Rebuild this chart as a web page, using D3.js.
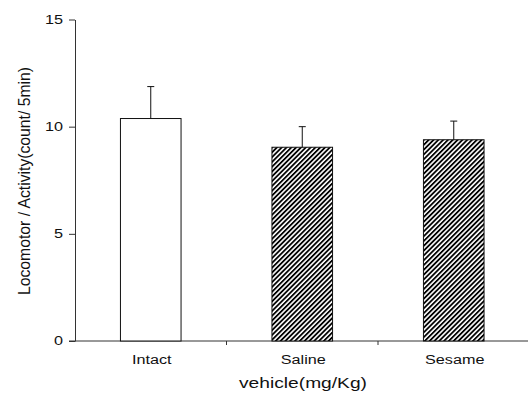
<!DOCTYPE html>
<html>
<head>
<meta charset="utf-8">
<script src="https://cdn.jsdelivr.net/npm/d3@7"></script>
<style>
  body { margin: 0; background: white; }
  text { font-family: Arial, "Liberation Sans", sans-serif; fill: #111; }
</style>
</head>
<body>
<div id="chart"></div>
<script>
// Chart data
var categories = ["Intact", "Saline", "Sesame"];
var means = [10.38, 9.04, 9.39];
var errors = [1.49, 0.96, 0.87];
var hatched = [false, true, true];
var yTicks = [0, 5, 10, 15];

var width = 528;
var height = 394;
var stretch = 1.35; // the original picture is stretched sideways

var svg = d3.select("#chart")
    .append("svg")
    .attr("width", width)
    .attr("height", height);

// hatch pattern for the treated groups
var defs = svg.append("defs");
var pat = defs.append("pattern")
    .attr("id", "hatch")
    .attr("patternUnits", "userSpaceOnUse")
    .attr("width", 3.4)
    .attr("height", 4)
    .attr("patternTransform", "rotate(45)");
pat.append("rect").attr("width", 3.4).attr("height", 4).attr("fill", "white");
pat.append("rect").attr("width", 1.8).attr("height", 4).attr("fill", "#000");

// scales
var xScale = d3.scaleBand()
    .domain(categories)
    .range([75, 529.5])
    .paddingInner(0.6)
    .paddingOuter(0.3);

var bandScale = d3.scaleBand()
    .domain(categories)
    .range([75, 529.5]);

var yScale = d3.scaleLinear()
    .domain([0, 15])
    .range([341, 19.5]);

// y axis
var yAxis = d3.axisLeft(yScale)
    .tickValues(yTicks)
    .tickSize(6)
    .tickSizeOuter(0)
    .tickPadding(6);

var yG = svg.append("g")
    .attr("class", "yAxis")
    .attr("transform", "translate(75,0)")
    .call(yAxis);
yG.selectAll("path, line").attr("stroke", "#333");
yG.selectAll("text")
    .attr("font-size", 12)
    .style("fill", "#111")
    .each(function() {
        var w = this.getComputedTextLength();
        d3.select(this).attr("textLength", w * stretch).attr("lengthAdjust", "spacingAndGlyphs");
    });

// x axis line
svg.append("line")
    .attr("x1", 69)
    .attr("x2", 529.5)
    .attr("y1", yScale(0))
    .attr("y2", yScale(0))
    .attr("stroke", "#333");

// ticks between the groups
svg.selectAll(".xTick")
    .data(categories.slice(1))
    .enter()
    .append("line")
    .attr("class", "xTick")
    .attr("x1", d => bandScale(d))
    .attr("x2", d => bandScale(d))
    .attr("y1", yScale(0))
    .attr("y2", yScale(0) + 4)
    .attr("stroke", "#333");

// bars
svg.selectAll(".bar")
    .data(categories)
    .enter()
    .append("rect")
    .attr("class", "bar")
    .attr("x", d => xScale(d))
    .attr("width", xScale.bandwidth())
    .attr("y", (d, i) => yScale(means[i]))
    .attr("height", (d, i) => yScale(0) - yScale(means[i]))
    .attr("fill", (d, i) => hatched[i] ? "url(#hatch)" : "white")
    .attr("stroke", "#111")
    .attr("stroke-width", 1);

// error bars (upper only)
var cx = d => xScale(d) + xScale.bandwidth() / 2;
svg.selectAll(".errLine")
    .data(categories)
    .enter()
    .append("line")
    .attr("x1", cx)
    .attr("x2", cx)
    .attr("y1", (d, i) => yScale(means[i]))
    .attr("y2", (d, i) => yScale(means[i] + errors[i]))
    .attr("stroke", "#111");
svg.selectAll(".errCap")
    .data(categories)
    .enter()
    .append("line")
    .attr("x1", d => cx(d) - 3.5)
    .attr("x2", d => cx(d) + 3.5)
    .attr("y1", (d, i) => yScale(means[i] + errors[i]))
    .attr("y2", (d, i) => yScale(means[i] + errors[i]))
    .attr("stroke", "#111");

// category labels
svg.selectAll(".catLabel")
    .data(categories)
    .enter()
    .append("text")
    .attr("class", "catLabel")
    .attr("x", d => cx(d) + 1)
    .attr("y", 364)
    .attr("text-anchor", "middle")
    .attr("font-size", 12)
    .text(d => d)
    .each(function() {
        var w = this.getComputedTextLength();
        d3.select(this).attr("textLength", w * stretch).attr("lengthAdjust", "spacingAndGlyphs");
    });

// axis titles
svg.append("text")
    .attr("x", 303)
    .attr("y", 388)
    .attr("text-anchor", "middle")
    .attr("font-size", 15)
    .attr("textLength", 128)
    .attr("lengthAdjust", "spacingAndGlyphs")
    .text("vehicle(mg/Kg)");

svg.append("text")
    .attr("transform", "translate(30,181) scale(1.3,1) rotate(-90)")
    .attr("text-anchor", "middle")
    .attr("font-size", 13)
    .attr("textLength", 228)
    .attr("lengthAdjust", "spacingAndGlyphs")
    .text("Locomotor / Activity(count/ 5min)");
</script>
</body>
</html>
